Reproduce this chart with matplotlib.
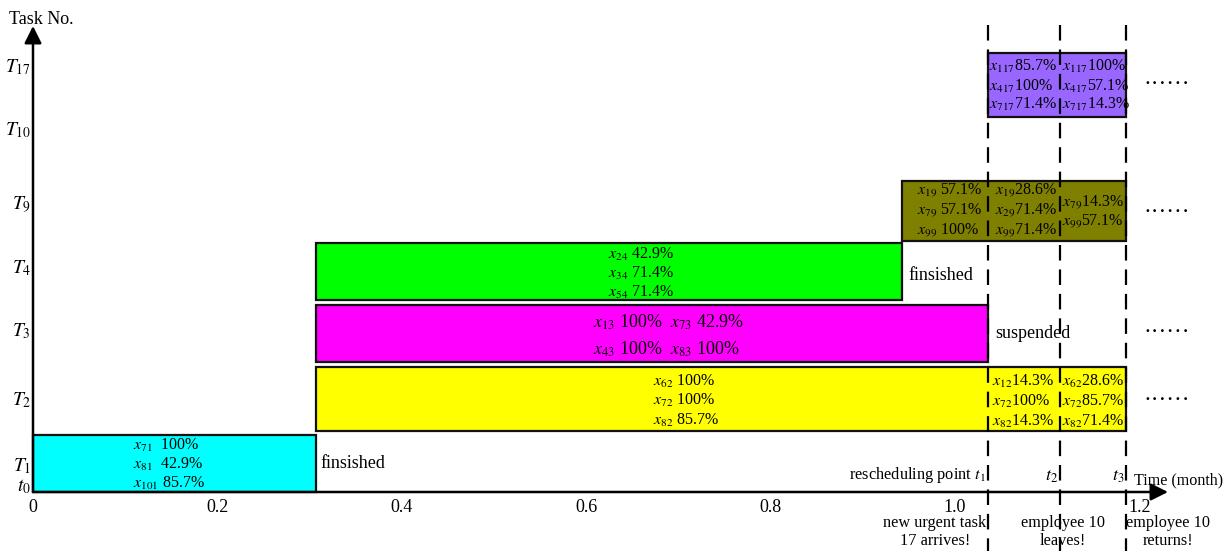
import matplotlib
matplotlib.use("Agg")
import matplotlib.pyplot as plt
from matplotlib.patches import Rectangle

plt.rcParams['font.family'] = ['Liberation Serif', 'DejaVu Serif']
plt.rcParams['mathtext.fontset'] = 'stix'

# ---- data ----
tasks = ['T_1', 'T_2', 'T_3', 'T_4', 'T_9', 'T_{17}']
bar_start = [0.0, 0.307, 0.307, 0.307, 0.9425, 1.036]
bar_end = [0.307, 1.185, 1.036, 0.9425, 1.185, 1.185]
bar_colors = ['#00FFFF', '#FFFF00', '#FF00FF', '#00FF00', '#808000', '#9966FF']
y_labels = ['T_{17}', 'T_{10}', 'T_9', 'T_4', 'T_3', 'T_2', 'T_1', 't_0']
x_ticks = [0, 0.2, 0.4, 0.6, 0.8, 1.0, 1.2]
x_tick_labels = ['0', '0.2', '0.4', '0.6', '0.8', '1.0', '1.2']
t_points = [1.036, 1.114, 1.185]   # t1, t2, t3

t1_text = [r'$x_{71}$  100%', r'$x_{81}$  42.9%', r'$x_{101}$ 85.7%']
t2_text = [[r'$x_{62}$ 100%', r'$x_{72}$ 100%', r'$x_{82}$ 85.7%'],
           [r'$x_{12}$14.3%', r'$x_{72}$100%', r'$x_{82}$14.3%'],
           [r'$x_{62}$28.6%', r'$x_{72}$85.7%', r'$x_{82}$71.4%']]
t3_text = [r'$x_{13}$ 100%  $x_{73}$ 42.9%', r'$x_{43}$ 100%  $x_{83}$ 100%']
t4_text = [r'$x_{24}$ 42.9%', r'$x_{34}$ 71.4%', r'$x_{54}$ 71.4%']
t9_text = [[r'$x_{19}$ 57.1%', r'$x_{79}$ 57.1%', r'$x_{99}$ 100%'],
           [r'$x_{19}$28.6%', r'$x_{29}$71.4%', r'$x_{99}$71.4%'],
           [r'$x_{79}$14.3%', r'$x_{99}$57.1%']]
t17_text = [[r'$x_{117}$85.7%', r'$x_{417}$100%', r'$x_{717}$71.4%'],
            [r'$x_{117}$100%', r'$x_{417}$57.1%', r'$x_{717}$14.3%']]

# ---- layout (vertical units = pixels above the time axis) ----
row_bottom = [0, 61, 130, 192, 251, 375]
row_height = [57, 64, 57, 57, 60, 64]
label_y = [425, 362, 287, 224, 161, 92, 26, 5]

PX = 922.0   # pixels per month
X0 = 33.0


def px(x):
    return (x - X0) / PX


def py(y):
    return 492 - y


fig = plt.figure(figsize=(12.29, 5.51), dpi=100)
ax = fig.add_axes([0, 0, 1, 1])
ax.set_xlim(px(0), px(1229))
ax.set_ylim(py(551), py(0))
ax.axis('off')

# bars
for s, e, b, h, c in zip(bar_start, bar_end, row_bottom, row_height, bar_colors):
    ax.add_patch(Rectangle((s, b), e - s, h, facecolor=c, edgecolor='#111111',
                           linewidth=1.6, zorder=2))

# axes with arrows
ax.annotate('', xy=(px(1168), 0), xytext=(0, 0),
            arrowprops=dict(arrowstyle='-|>', color='k', lw=1.8, mutation_scale=26,
                            shrinkA=0, shrinkB=0), zorder=5)
ax.annotate('', xy=(0, py(26)), xytext=(0, 0),
            arrowprops=dict(arrowstyle='-|>', color='k', lw=1.8, mutation_scale=26,
                            shrinkA=0, shrinkB=0), zorder=5)

# dashed rescheduling lines
for t in t_points:
    ax.plot([t, t], [py(25), py(551)], color='k', lw=1.6, dashes=(7, 4), zorder=4)

# y labels
for lab, y in zip(y_labels, label_y):
    ax.text(px(31), y, '$' + lab + '$', ha='right', va='center', fontsize=14)
ax.text(px(9), py(19), 'Task No.', ha='left', va='center', fontsize=13)

# x tick labels
for v, lab in zip(x_ticks, x_tick_labels):
    ax.text(v, py(508), lab, ha='center', va='center', fontsize=13)


def lines(x, ys, texts, fs=11.5):
    for y, t in zip(ys, texts):
        ax.text(x, py(y), t, ha='left', va='center', fontsize=fs, zorder=6)


lines(px(133), [445, 464, 483], t1_text)
lines(px(653), [381, 400, 420], t2_text[0])
lines(px(992), [381, 401, 421], t2_text[1])
lines(px(1062), [381, 401, 421], t2_text[2])
lines(px(593), [322, 349], t3_text, fs=13)
lines(px(608), [254, 273, 292], t4_text)
lines(px(917), [190, 210, 230], t9_text[0])
lines(px(995), [190, 210, 230], t9_text[1])
lines(px(1062), [202, 221], t9_text[2])
lines(px(989), [66, 86, 104], t17_text[0])
lines(px(1062), [66, 86, 104], t17_text[1])

# status texts
ax.text(px(320), py(463), 'finsished', ha='left', va='center', fontsize=13)
ax.text(px(908), py(275), 'finsished', ha='left', va='center', fontsize=13)
ax.text(px(995), py(334), 'suspended', ha='left', va='center', fontsize=13)
for y in [84, 212, 333, 400]:
    ax.text(px(1144), py(y), '\u00b7\u00b7\u00b7\u00b7\u00b7\u00b7', ha='left',
            va='center', fontsize=17)

# event labels
ax.text(px(986), py(485), r'rescheduling point $t_1$', ha='right', va='bottom',
        fontsize=11.8)
ax.text(px(1058), py(485), r'$t_2$', ha='right', va='bottom', fontsize=13)
ax.text(px(1124), py(485), r'$t_3$', ha='right', va='bottom', fontsize=13)
ax.text(px(1134), py(480), 'Time (month)', ha='left', va='center', fontsize=11.6)
ax.text(px(935), py(532), 'new urgent task\n17 arrives!', ha='center', va='center',
        fontsize=11.7, linespacing=1.2)
ax.text(px(1063), py(532), 'employee 10\nleaves!', ha='center', va='center',
        fontsize=11.7, linespacing=1.2)
ax.text(px(1168), py(532), 'employee 10\nreturns!', ha='center', va='center',
        fontsize=11.7, linespacing=1.2)

fig.savefig('out.png', dpi=100)
